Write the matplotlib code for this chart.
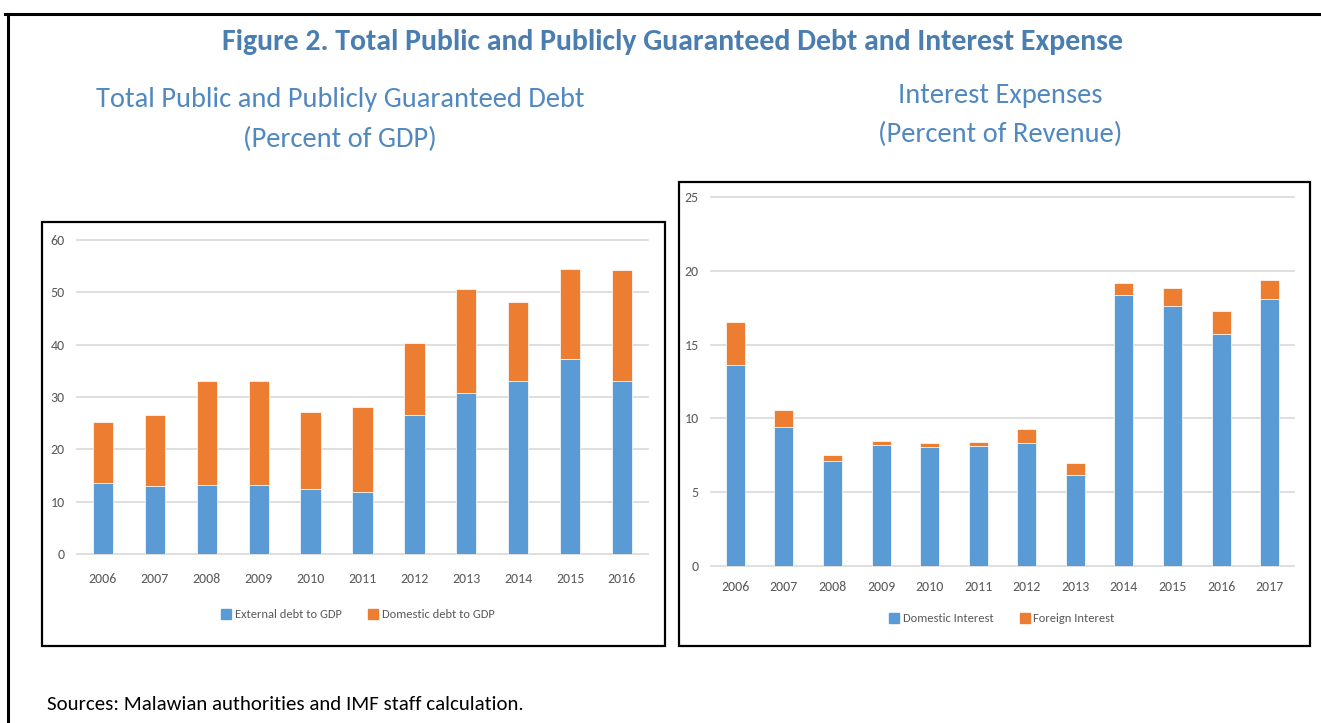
import numpy as np
import matplotlib
matplotlib.use("Agg")
import matplotlib.pyplot as plt
from matplotlib.patches import Rectangle
from matplotlib.lines import Line2D

# left panel: debt in percent of GDP
debt_years = ["2006", "2007", "2008", "2009", "2010", "2011",
              "2012", "2013", "2014", "2015", "2016"]
external_debt = [13.5, 12.9, 13.2, 13.2, 12.4, 11.8, 26.6, 30.7, 33.0, 37.2, 33.0]
total_debt = [25.3, 26.6, 33.0, 33.0, 27.2, 28.0, 40.3, 50.6, 48.2, 54.5, 54.3]
domestic_debt = [t - e for t, e in zip(total_debt, external_debt)]

# right panel: interest in percent of revenue
int_years = ["2006", "2007", "2008", "2009", "2010", "2011",
             "2012", "2013", "2014", "2015", "2016", "2017"]
domestic_interest = [13.6, 9.4, 7.1, 8.2, 8.05, 8.1, 8.35, 6.15, 18.35, 17.6, 15.7, 18.1]
total_interest = [16.5, 10.6, 7.5, 8.45, 8.3, 8.4, 9.25, 7.0, 19.15, 18.85, 17.25, 19.4]
foreign_interest = [t - d for t, d in zip(total_interest, domestic_interest)]

BLUE = "#5B9BD5"
ORANGE = "#ED7D31"
TITLE_BLUE = "#4A7EB0"
SUB_BLUE = "#5088BF"
TICK_GREY = "#595959"
GRID = "#D9D9D9"
FONT = ["Carlito", "Open Sans", "DejaVu Sans"]

W, H = 1321, 723
fig = plt.figure(figsize=(W / 100, H / 100), dpi=100)


def fx(px):
    return px / W


def fy(py):
    return 1 - py / H


def style_axes(ax, ymax, ystep, xpad):
    ax.set_ylim(0, ymax)
    ax.set_yticks(np.arange(0, ymax + 0.1, ystep))
    for s in ax.spines.values():
        s.set_visible(False)
    ax.grid(axis="y", color=GRID, lw=1.2)
    for gl in ax.get_ygridlines():
        gl.set_clip_on(False)
    ax.set_axisbelow(True)
    ax.tick_params(length=0, colors=TICK_GREY, labelsize=10)
    ax.tick_params(axis="y", pad=9)
    ax.tick_params(axis="x", pad=xpad)
    for lab in ax.get_xticklabels() + ax.get_yticklabels():
        lab.set_family(FONT)


def stacked(ax, cats, bottom_vals, top_vals):
    x = np.arange(len(cats))
    ax.bar(x, bottom_vals, width=0.39, color=BLUE, edgecolor="white", lw=0.5)
    ax.bar(x, top_vals, width=0.39, bottom=bottom_vals, color=ORANGE,
           edgecolor="white", lw=0.5)
    ax.set_xticks(x)
    ax.set_xticklabels(cats)
    ax.set_xlim(-0.5, len(cats) - 0.5)


# left chart
ax1 = fig.add_axes([fx(77), fy(554), fx(648 - 77), (554 - 240) / H])
stacked(ax1, debt_years, external_debt, domestic_debt)
style_axes(ax1, 60, 10, 14)

# right chart
ax2 = fig.add_axes([fx(711), fy(566), fx(1294 - 711), (566 - 197) / H])
stacked(ax2, int_years, domestic_interest, foreign_interest)
style_axes(ax2, 25, 5, 11)


def legend(labels, cx, cy):
    handles = [Line2D([], [], marker="s", ls="", color=c, markersize=7)
               for c in (BLUE, ORANGE)]
    fig.legend(handles, labels, loc="center", bbox_to_anchor=(fx(cx), fy(cy)),
               ncol=2, frameon=False, handletextpad=-0.3, columnspacing=1.5,
               prop={"family": FONT, "size": 9}, labelcolor=TICK_GREY)


legend(["External debt to GDP", "Domestic debt to GDP"], 354, 615)
legend(["Domestic Interest", "Foreign Interest"], 998, 619)

# chart boxes
for x0, y0, x1, y1 in [(42, 222, 665, 646), (679, 182, 1310, 646)]:
    fig.patches.append(Rectangle((fx(x0), fy(y1)), fx(x1 - x0), (y1 - y0) / H,
                                 transform=fig.transFigure, fill=False,
                                 ec="black", lw=1.6))

# outer frame (top and left edges)
fig.add_artist(Line2D([fx(5), 1.0], [fy(14), fy(14)], color="black", lw=2.2,
                      transform=fig.transFigure))
fig.add_artist(Line2D([fx(8), fx(8)], [0, fy(14)], color="black", lw=2.2,
                      transform=fig.transFigure))

# titles
fig.text(fx(672), fy(42), "Figure 2. Total Public and Publicly Guaranteed Debt and Interest Expense",
         ha="center", va="center", color=TITLE_BLUE, fontsize=21.5, fontweight="bold",
         family=FONT)
for cx, cy, txt in [(340, 100, "Total Public and Publicly Guaranteed Debt"),
                    (340, 139, "(Percent of GDP)"),
                    (1000, 95, "Interest Expenses"),
                    (1000, 134, "(Percent of Revenue)")]:
    fig.text(fx(cx), fy(cy), txt, ha="center", va="center", color=SUB_BLUE,
             fontsize=20.5, family=FONT)

fig.text(fx(47), fy(705), "Sources: Malawian authorities and IMF staff calculation.",
         ha="left", va="center", color="black", fontsize=15, family=FONT)

fig.savefig("out.png", dpi=100)
